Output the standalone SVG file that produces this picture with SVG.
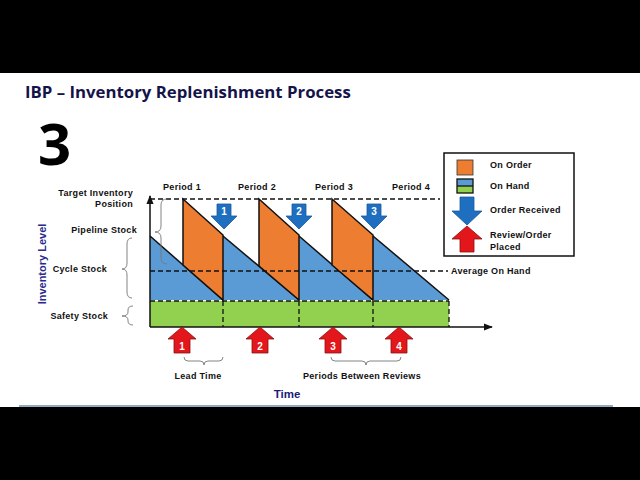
<svg xmlns="http://www.w3.org/2000/svg" width="640" height="480" viewBox="0 0 640 480">
<defs>
<style>
.lbl{font-family:"Liberation Sans",Arial,sans-serif;font-weight:bold;font-size:9px;letter-spacing:0.3px;fill:#111}
.num{font-family:"Liberation Sans",Arial,sans-serif;font-weight:bold;font-size:10px;fill:#fff;text-anchor:middle}
.dash{stroke:#111;stroke-width:1.3;stroke-dasharray:5,3;fill:none}
.brace{stroke:#777;stroke-width:0.9;fill:none}
.edge{stroke:#111;stroke-width:1.5;fill:none}
.org{fill:#ed7d31;stroke:#111;stroke-width:1.5}
.blu{fill:#5b9bd5}
.darr{fill:#1f6fc1;stroke:#1a5a9e;stroke-width:0.8}
.uarr{fill:#e3161b;stroke:#8c1010;stroke-width:0.8}
</style>
<marker id="ah" viewBox="0 0 10 10" refX="9" refY="5" markerWidth="6" markerHeight="6" orient="auto">
<path d="M0,1 L10,5 L0,9 Z" fill="#111"/>
</marker>
</defs>
<rect x="0" y="0" width="640" height="480" fill="#000"/>
<rect x="0" y="73" width="640" height="334" fill="#fff"/>
<line x1="19" y1="406" x2="613" y2="406" stroke="#6f8fa8" stroke-width="1.5"/>

<g id="title">
<text x="25" y="98" font-family="'Open Sans','Liberation Sans',sans-serif" font-weight="bold" font-size="16.8" fill="#14144a">IBP – Inventory Replenishment Process</text>
<text x="38" y="165" font-family="'Open Sans','Liberation Sans',sans-serif" font-weight="bold" font-size="58" fill="#000">3</text>
</g>

<g id="chart-areas">
<rect x="150" y="301" width="299" height="26" fill="#92d050"/>
<polygon class="blu" points="150,236 223,300 150,300"/>
<polygon class="blu" points="223,236 299,300 223,300"/>
<polygon class="blu" points="299,236 373,300 299,300"/>
<polygon class="blu" points="373,236 449,300 373,300"/>
<line class="edge" x1="150" y1="236" x2="223" y2="300"/>
<line class="edge" x1="223" y1="236" x2="299" y2="300"/>
<line class="edge" x1="299" y1="236" x2="373" y2="300"/>
<line class="edge" x1="373" y1="236" x2="449" y2="300"/>
<polygon id="order1" class="org" points="183,199 223,235 223,300 183,265"/>
<polygon id="order2" class="org" points="259,199 299,235 299,300 259,266"/>
<polygon id="order3" class="org" points="332,199 373,235 373,300 332,265"/>
</g>

<g id="connectors">
<line class="dash" x1="150" y1="199" x2="440" y2="199"/>
<line class="dash" x1="150" y1="271" x2="448" y2="271"/>
<line class="dash" x1="150" y1="301" x2="449" y2="301"/>
<line class="dash" x1="223" y1="301" x2="223" y2="327"/>
<line class="dash" x1="299" y1="301" x2="299" y2="327"/>
<line class="dash" x1="373" y1="301" x2="373" y2="327"/>
<line class="dash" x1="449" y1="301" x2="449" y2="327"/>
<line x1="150" y1="327" x2="150" y2="196" stroke="#111" stroke-width="1.5" marker-end="url(#ah)"/>
<line x1="150" y1="327" x2="492" y2="327" stroke="#111" stroke-width="1.5" marker-end="url(#ah)"/>
<path class="brace" d="M167,199 Q161,199 161,205 L161,226 Q161,232 155,232 Q161,232 161,238 L161,258 Q161,264 167,264"/>
<path class="brace" d="M132,238 Q127,238 127,244 L127,263 Q127,269 122,269 Q127,269 127,275 L127,292 Q127,298 132,298"/>
<path class="brace" d="M133,306 Q128,306 128,310 L128,312 Q128,316 122,316 Q128,316 128,320 L128,321 Q128,325 133,325"/>
<path class="brace" d="M184,357 Q184,361 188,361 L200,361 Q204,361 204,365 Q204,361 208,361 L219,361 Q223,361 223,357"/>
<path class="brace" d="M331,357 Q331,361 335,361 L362,361 Q366,361 366,365 Q366,361 370,361 L397,361 Q401,361 401,357"/>
</g>

<g id="axis-labels">
<text class="lbl" x="133" y="196" text-anchor="end">Target Inventory</text>
<text class="lbl" x="133" y="207" text-anchor="end">Position</text>
<text class="lbl" x="137" y="233" text-anchor="end">Pipeline Stock</text>
<text class="lbl" x="107" y="272" text-anchor="end">Cycle Stock</text>
<text class="lbl" x="108" y="319" text-anchor="end">Safety Stock</text>
<text x="46" y="264" transform="rotate(-90 46 264)" text-anchor="middle" font-family="'Liberation Sans',Arial,sans-serif" font-weight="bold" font-size="11" fill="#2a2a8c">Inventory Level</text>
<text class="lbl" x="182" y="190" text-anchor="middle">Period 1</text>
<text class="lbl" x="257" y="190" text-anchor="middle">Period 2</text>
<text class="lbl" x="334" y="190" text-anchor="middle">Period 3</text>
<text class="lbl" x="411" y="190" text-anchor="middle">Period 4</text>
<text class="lbl" x="451" y="274">Average On Hand</text>
<text class="lbl" x="198" y="379" text-anchor="middle">Lead Time</text>
<text class="lbl" x="362" y="379" text-anchor="middle">Periods Between Reviews</text>
<text x="287" y="398" text-anchor="middle" font-family="'Liberation Sans',Arial,sans-serif" font-weight="bold" font-size="11.5" fill="#1a1a7a">Time</text>
</g>

<g id="received-1"><path class="darr" d="M217,204 H231 V216 H237 L224,229 L211,216 H217 Z"/><text class="num" x="224" y="215">1</text></g>
<g id="received-2"><path class="darr" d="M292,204 H306 V216 H312 L299,229 L286,216 H292 Z"/><text class="num" x="299" y="215">2</text></g>
<g id="received-3"><path class="darr" d="M367,204 H381 V216 H387 L374,229 L361,216 H367 Z"/><text class="num" x="374" y="215">3</text></g>

<g id="review-1"><path class="uarr" d="M182,327 L196,339 H190 V353 H174 V339 H168 Z"/><text class="num" x="182" y="350">1</text></g>
<g id="review-2"><path class="uarr" d="M260,327 L274,339 H268 V353 H252 V339 H246 Z"/><text class="num" x="260" y="350">2</text></g>
<g id="review-3"><path class="uarr" d="M333,327 L347,339 H341 V353 H325 V339 H319 Z"/><text class="num" x="333" y="350">3</text></g>
<g id="review-4"><path class="uarr" d="M399,327 L413,339 H407 V353 H391 V339 H385 Z"/><text class="num" x="399" y="350">4</text></g>

<g id="legend">
<rect x="444" y="153" width="130" height="103" fill="#fff" stroke="#111" stroke-width="1.5"/>
<rect x="457" y="160" width="16" height="15" fill="#ed7d31" stroke="#333" stroke-width="0.8"/>
<text class="lbl" x="490" y="168">On Order</text>
<rect x="457" y="179" width="16" height="7" fill="#5b9bd5"/>
<rect x="457" y="186" width="16" height="7" fill="#92d050"/>
<rect x="457" y="179" width="16" height="14" fill="none" stroke="#111" stroke-width="1.3"/>
<line x1="457" y1="186" x2="473" y2="186" stroke="#111" stroke-width="1.3"/>
<text class="lbl" x="490" y="189">On Hand</text>
<path class="darr" d="M460,197 H474 V211 H482 L467,225 L452,211 H460 Z"/>
<text class="lbl" x="490" y="213">Order Received</text>
<path class="uarr" d="M467,226 L482,239 H474 V252 H460 V239 H452 Z"/>
<text class="lbl" x="490" y="238">Review/Order</text>
<text class="lbl" x="490" y="250">Placed</text>
</g>
</svg>
